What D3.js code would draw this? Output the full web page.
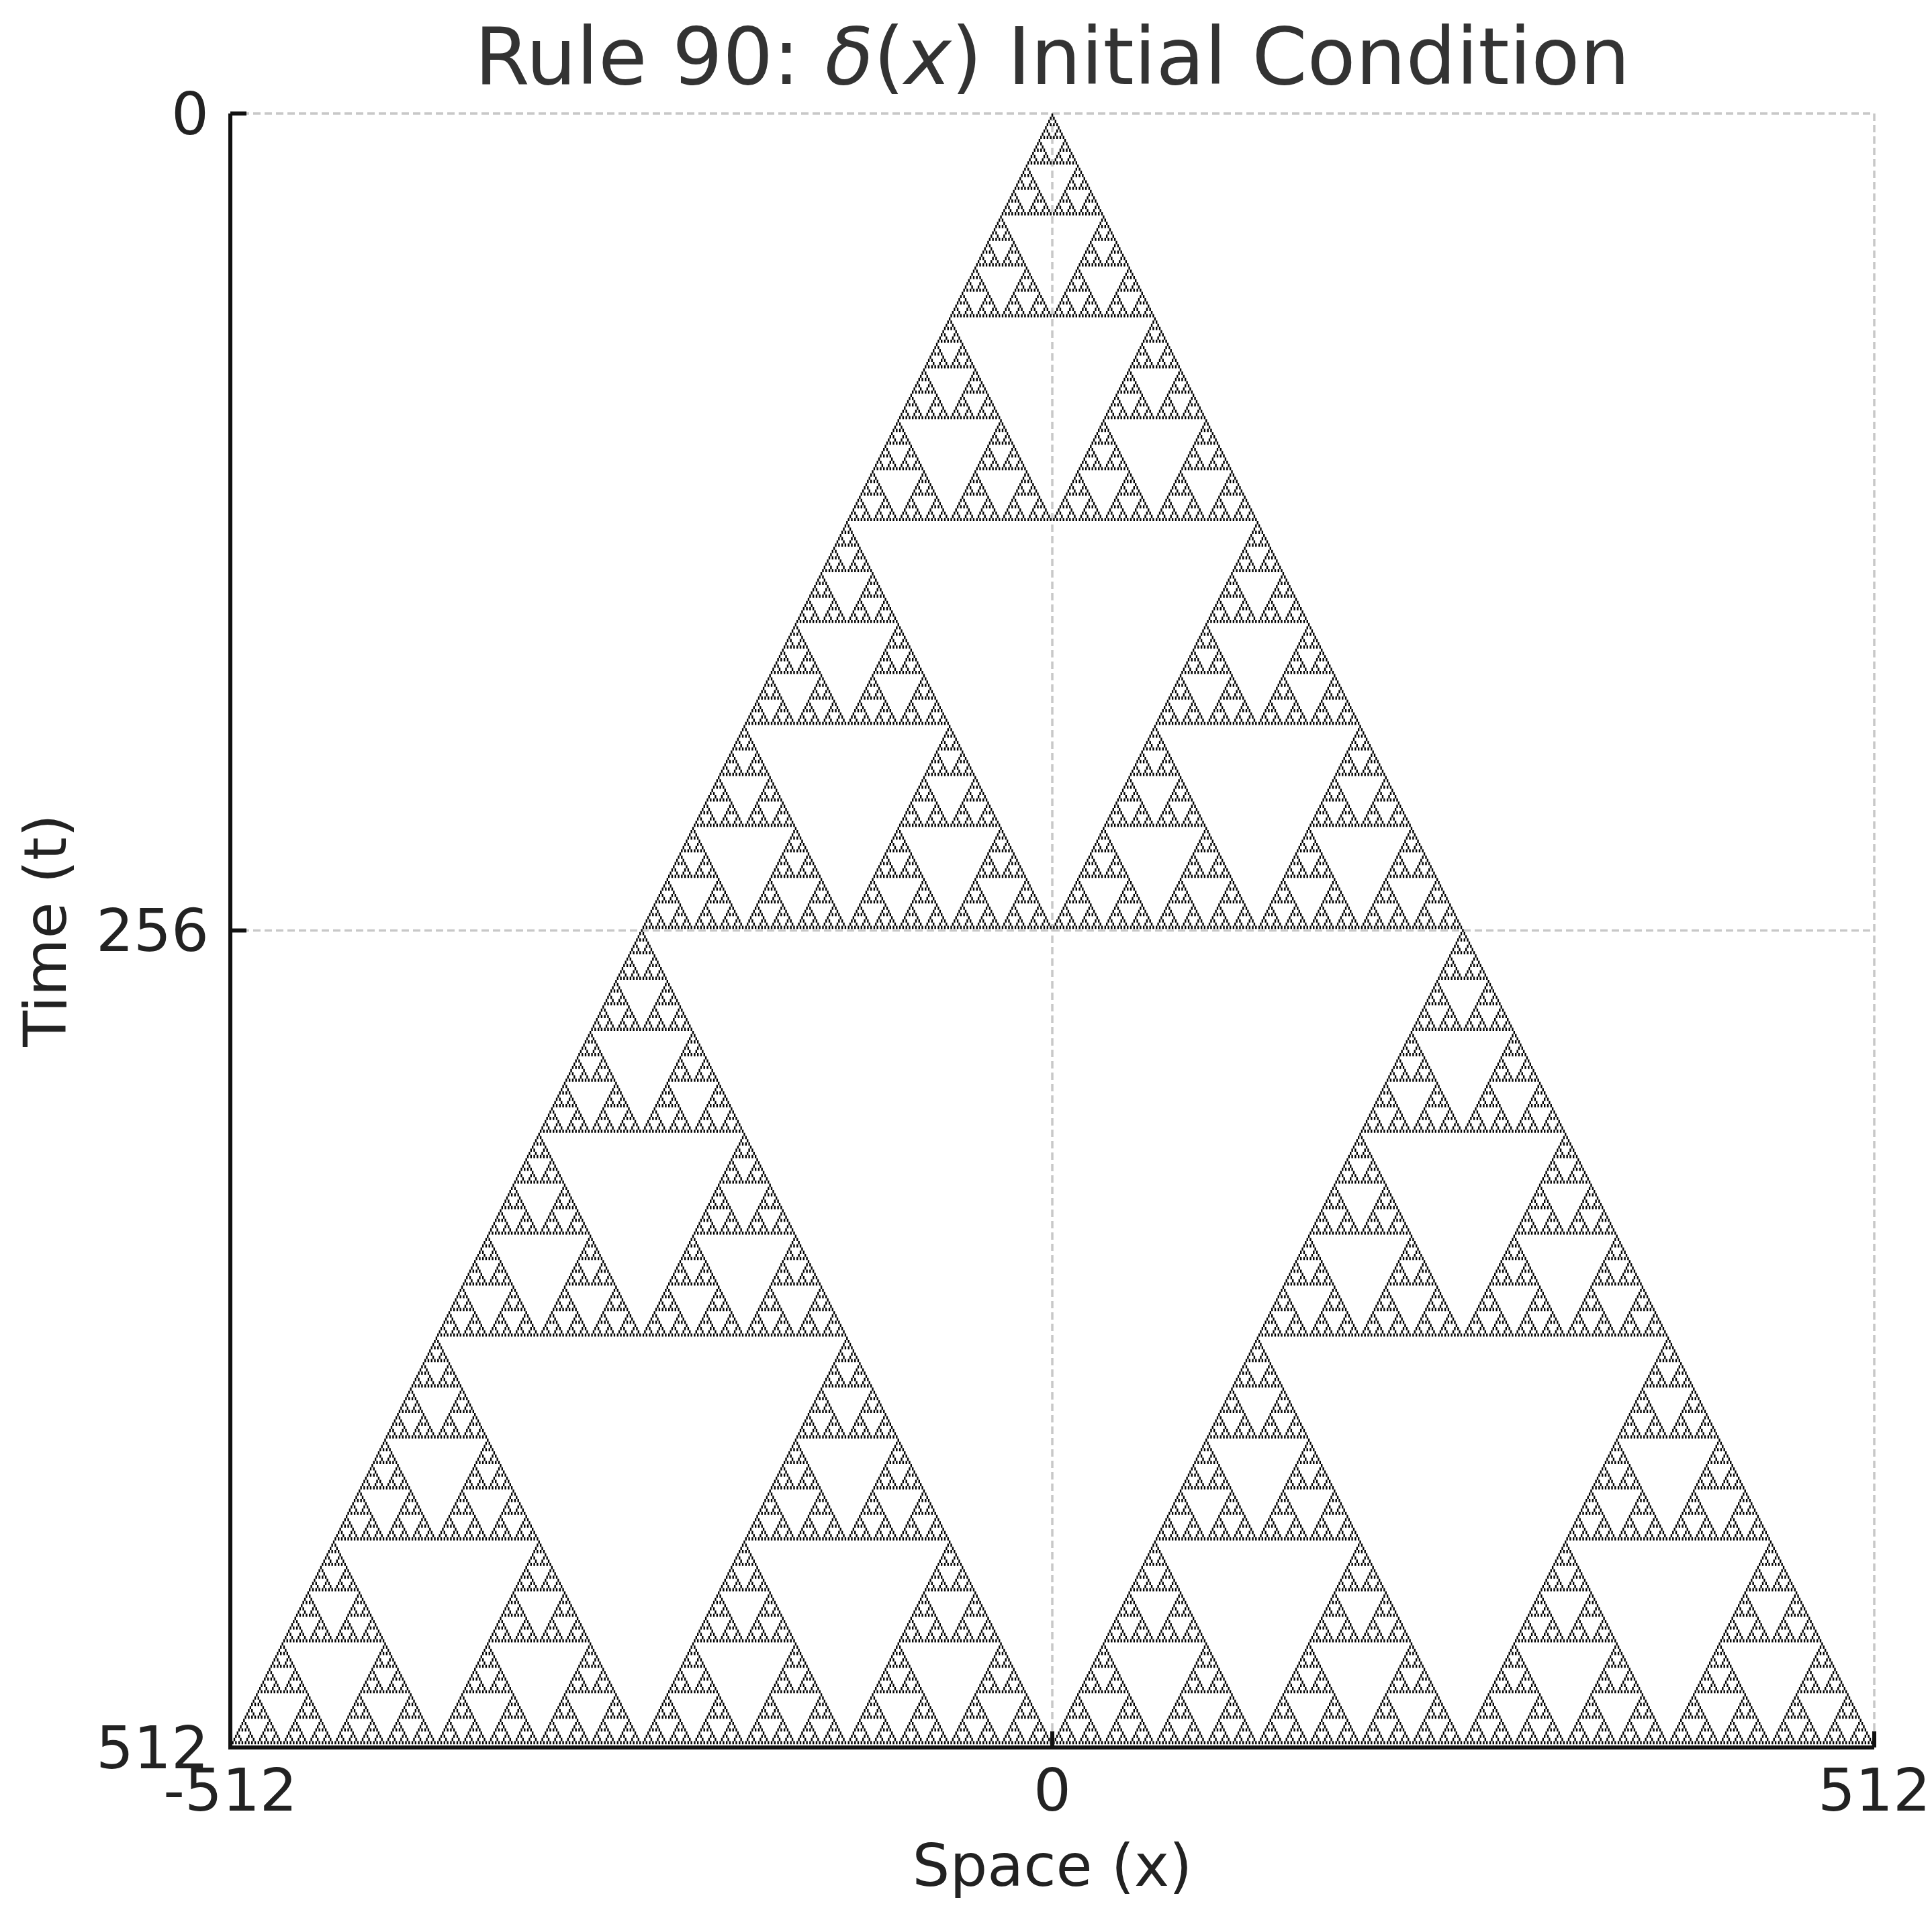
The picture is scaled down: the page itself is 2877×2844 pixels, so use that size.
<!DOCTYPE html>
<html><head><meta charset="utf-8">
<script src="https://cdn.jsdelivr.net/npm/d3@7"></script>
<style>body{margin:0;background:#fff}</style></head>
<body><svg id="c" width="2877" height="2844"></svg>
<script>
const ruleNumber = 90;
const steps = 512;
const halfWidth = 512;
const initialCells = [0];           // δ(x): single live cell at x = 0
const xTicks = [-512, 0, 512];
const yTicks = [0, 256, 512];
const titleText = "Rule 90: ";
const xLabel = "Space (x)", yLabel = "Time (t)";

const N = 2*halfWidth + 1;
let row = new Uint8Array(N);
initialCells.forEach(x => row[x + halfWidth] = 1);
const rows = [row];
for (let t = 1; t <= steps; t++) {
  const nr = new Uint8Array(N);
  for (let i = 0; i < N; i++) {
    const l = i > 0 ? row[i-1] : 0, c = row[i], r = i < N-1 ? row[i+1] : 0;
    nr[i] = (ruleNumber >> (l*4 + c*2 + r)) & 1;
  }
  rows.push(nr); row = nr;
}

const L = 343, R = 2791, T = 169, B = 2602;
const xs = d3.scaleLinear().domain([-512, 512]).range([L, R]);
const ys = d3.scaleLinear().domain([0, 512]).range([T, B]);
const svg = d3.select("#c");
const font = "DejaVu Sans";

const g = svg.append("g").attr("stroke", "#c8c8c8").attr("stroke-width", 3.5).attr("stroke-dasharray", "11,6");
xTicks.forEach(v => g.append("line").attr("x1", xs(v)).attr("x2", xs(v)).attr("y1", T).attr("y2", B));
yTicks.forEach(v => g.append("line").attr("x1", L).attr("x2", R).attr("y1", ys(v)).attr("y2", ys(v)));

const cw = (xs(512) - xs(-512)) / N, ch = (ys(512) - ys(0)) / (steps + 1);
let d = "";
rows.forEach((r, t) => {
  for (let i = 0; i < N; i++) if (r[i]) {
    const x0 = xs(-512) + i*cw, y0 = ys(0) + t*ch;
    d += `M${x0.toFixed(2)},${y0.toFixed(2)}h${cw.toFixed(2)}v${ch.toFixed(2)}h${(-cw).toFixed(2)}Z`;
  }
});
svg.append("path").attr("d", d).attr("fill", "#000");

svg.append("line").attr("x1", L).attr("x2", L).attr("y1", T).attr("y2", B+3).attr("stroke", "#111").attr("stroke-width", 6);
svg.append("line").attr("x1", L-3).attr("x2", R).attr("y1", B).attr("y2", B).attr("stroke", "#111").attr("stroke-width", 6);
yTicks.forEach(v => svg.append("line").attr("x1", L).attr("x2", L+24).attr("y1", ys(v)).attr("y2", ys(v)).attr("stroke", "#111").attr("stroke-width", 6));
xTicks.forEach(v => svg.append("line").attr("x1", xs(v)).attr("x2", xs(v)).attr("y1", B).attr("y2", B-24).attr("stroke", "#111").attr("stroke-width", 6));

yTicks.forEach(v => svg.append("text").attr("x", L-32).attr("y", ys(v)).attr("dy", "0.35em")
  .attr("text-anchor", "end").attr("font-family", font).attr("font-size", 88).attr("fill", "#222").text(v));
xTicks.forEach(v => svg.append("text").attr("x", xs(v)).attr("y", B+28).attr("dy", "0.75em")
  .attr("text-anchor", "middle").attr("font-family", font).attr("font-size", 88).attr("fill", "#222").text(v));

svg.append("text").attr("x", xs(0)).attr("y", 2808).attr("text-anchor", "middle")
  .attr("font-family", font).attr("font-size", 88).attr("fill", "#222").text(xLabel);
svg.append("text").attr("transform", `translate(98,${(T+B)/2}) rotate(-90)`).attr("text-anchor", "middle")
  .attr("font-family", font).attr("font-size", 88).attr("fill", "#222").text(yLabel);

const tt = svg.append("text").attr("x", xs(0)).attr("y", 125).attr("text-anchor", "middle")
  .attr("font-family", font).attr("font-size", 118).attr("fill", "#333");
tt.append("tspan").text(titleText);
tt.append("tspan").attr("font-style", "italic").text("δ");
tt.append("tspan").text("(");
tt.append("tspan").attr("font-style", "italic").text("x");
tt.append("tspan").text(") Initial Condition");
</script></body></html>
